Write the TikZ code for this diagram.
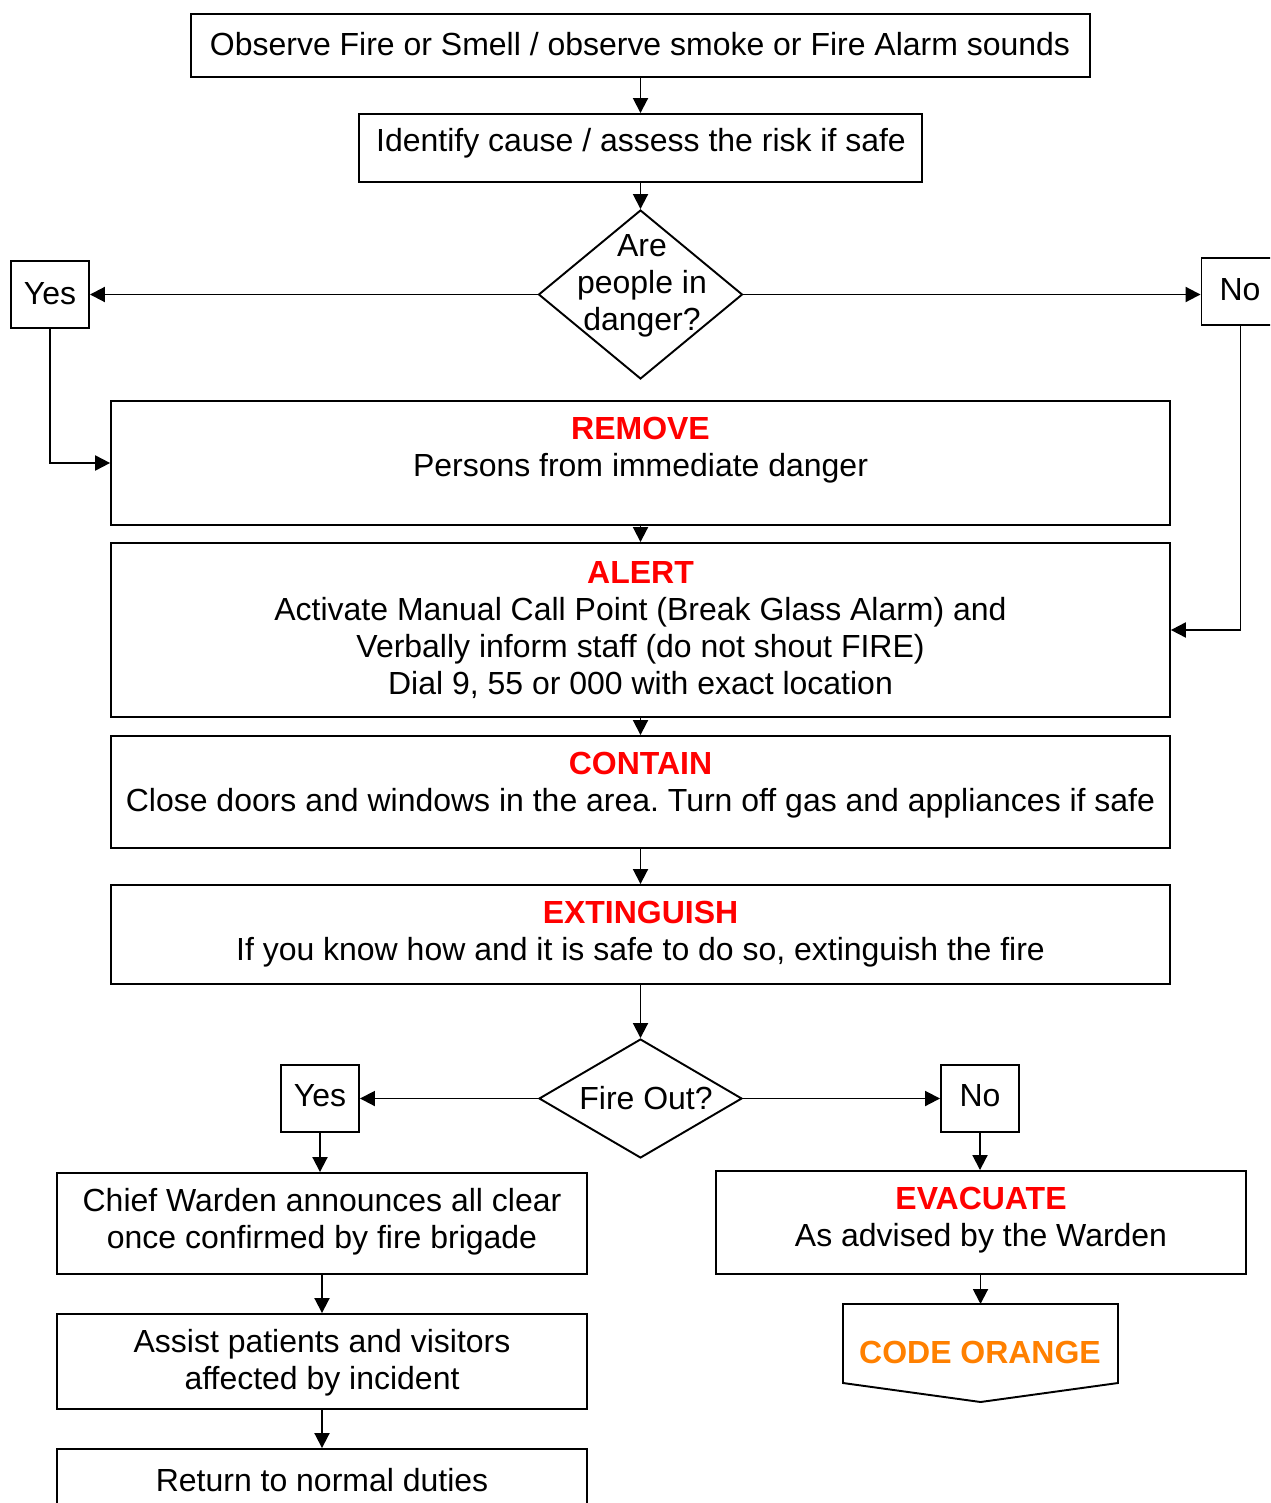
\documentclass[tikz,border=0pt]{standalone}
\usepackage{fontspec}
\setmainfont{Liberation Sans}
\usetikzlibrary{arrows.meta,positioning,shapes.geometric}
\definecolor{firered}{RGB}{255,0,0}
\definecolor{codeorange}{RGB}{255,128,0}
\newcommand{\stephead}[1]{\textcolor{firered}{\textbf{#1}}}
\frenchspacing

\begin{document}
\begin{tikzpicture}[x=0.02cm, y=-0.02cm, line width=1.1pt,
    >={Triangle[length=0.3cm, width=0.3cm]},
    font=\fontsize{18.2}{21.2}\selectfont,
    box/.style={draw, rectangle, inner sep=0pt},
    ask/.style={draw, diamond, inner sep=0pt},
    txt/.style={align=center, inner sep=0pt, yshift=-0.05cm}]
  \useasboundingbox (0,0) rectangle (1270,1503);
  \clip (0,0) rectangle (1270,1503);
  % main column
  \node[box, minimum width=18cm, minimum height=1.26cm] (observe) at (640.5,45.5) {};
  \node[txt] (observetxt) at (640,42) {Observe Fire or Smell / observe smoke or Fire Alarm sounds};
  \node[box, minimum width=11.28cm, minimum height=1.36cm] (identify) at (640.5,148) {};
  \node[txt] (identifytxt) at (641,141) {Identify cause / assess the risk if safe};
  \node[ask, minimum width=4.08cm, minimum height=3.38cm] (danger) at (640.5,294.5) {};
  \node[txt] (dangertxt) at (642,283.5) {Are\\people in\\danger?};
  \node[box, minimum width=1.56cm, minimum height=1.34cm] (yes1) at (50,294.5) {};
  \node[txt] (yes1txt) at (50,291) {Yes};
  \node[box, minimum width=1.56cm, minimum height=1.34cm] (no1) at (1240.5,291.5) {};
  \node[txt] (no1txt) at (1240,287) {No};
  \node[box, minimum width=21.18cm, minimum height=2.48cm] (remove) at (640.5,463) {};
  \node[txt] (removetxt) at (640.5,448) {\stephead{REMOVE}\\Persons from immediate danger};
  \node[box, minimum width=21.18cm, minimum height=3.48cm] (alert) at (640.5,630) {};
  \node[txt] (alerttxt) at (640.5,627.5) {\stephead{ALERT}\\Activate Manual Call Point (Break Glass Alarm) and\\
    Verbally inform staff (do not shout FIRE)\\Dial 9, 55 or 000 with exact location};
  \node[box, minimum width=21.18cm, minimum height=2.24cm] (contain) at (640.5,792) {};
  \node[txt] (containtxt) at (640.5,782.5) {\stephead{CONTAIN}\\Close doors and windows in the area. Turn off gas and appliances if safe};
  \node[box, minimum width=21.18cm, minimum height=1.98cm] (extinguish) at (640.5,934.5) {};
  \node[txt] (extinguishtxt) at (640.5,932) {\stephead{EXTINGUISH}\\If you know how and it is safe to do so, extinguish the fire};
  \node[ask, minimum width=4.06cm, minimum height=2.38cm] (fireout) at (640.5,1098.5) {};
  \node[txt] (fireouttxt) at (646,1096) {Fire Out?};
  % lower branches
  \node[box, minimum width=1.56cm, minimum height=1.34cm] (yes2) at (320,1098.5) {};
  \node[txt] (yes2txt) at (320,1093) {Yes};
  \node[box, minimum width=1.56cm, minimum height=1.34cm] (no2) at (980,1098.5) {};
  \node[txt] (no2txt) at (980,1093) {No};
  \node[box, minimum width=10.6cm, minimum height=2.02cm] (chief) at (322,1223.5) {};
  \node[txt] (chieftxt) at (322,1219.5) {Chief Warden announces all clear\\once confirmed by fire brigade};
  \node[box, minimum width=10.6cm, minimum height=1.9cm] (assist) at (322,1361.5) {};
  \node[txt] (assisttxt) at (322,1360) {Assist patients and visitors\\affected by incident};
  \node[box, minimum width=10.6cm, minimum height=1.9cm] (return) at (322,1496.5) {};
  \node[txt] (returntxt) at (322,1478) {Return to normal duties};
  \node[box, minimum width=10.6cm, minimum height=2.06cm] (evacuate) at (981,1222.5) {};
  \node[txt] (evacuatetxt) at (981,1218) {\stephead{EVACUATE}\\As advised by the Warden};
  \coordinate (orange) at (980.5,1304);
  \draw (843,1304) -- (1118,1304) -- (1118,1383) -- (980.5,1402) -- (843,1383) -- cycle;
  \node[txt, text=codeorange, font=\fontsize{18.2}{21.2}\selectfont\bfseries] (orangetxt) at (980,1350) {CODE ORANGE};
  % connectors
  \draw[->] (observe) -- (identify);
  \draw[->] (identify) -- (danger);
  \draw[->] (danger.west) -- (danger.west -| yes1.east);
  \draw[->] (danger.east) -- (danger.east -| no1.west);
  \draw[->] (yes1) |- (remove.west);
  \draw[->] (no1) |- (alert.east);
  \draw[->] (remove) -- (alert);
  \draw[->] (alert) -- (contain);
  \draw[->] (contain) -- (extinguish);
  \draw[->] (extinguish) -- (fireout);
  \draw[->] (fireout.west) -- (yes2.east);
  \draw[->] (fireout.east) -- (no2.west);
  \draw[->] (yes2) -- (yes2 |- chief.north);
  \draw[->] (no2) -- (no2 |- evacuate.north);
  \draw[->] (chief) -- (assist);
  \draw[->] (assist) -- (return);
  \draw[->] (evacuate.south -| orange) -- (orange);
\end{tikzpicture}
\end{document}
